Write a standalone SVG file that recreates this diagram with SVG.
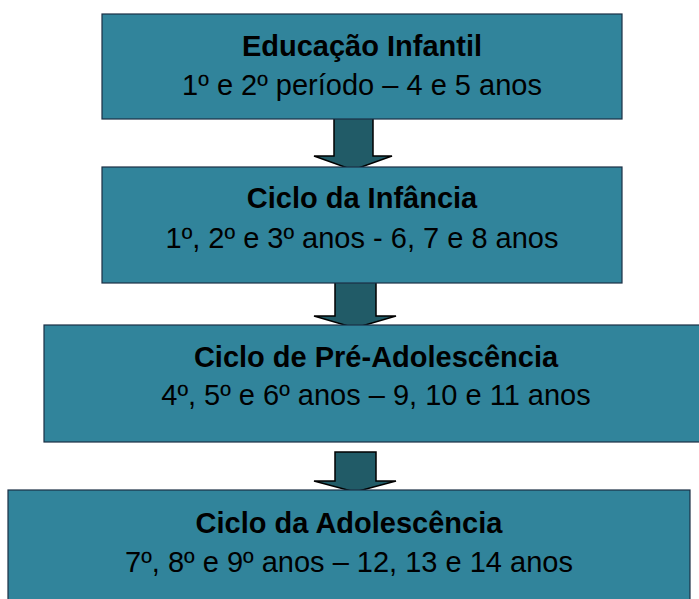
<svg xmlns="http://www.w3.org/2000/svg" width="699" height="599" viewBox="0 0 699 599">
<style>
.box{fill:#31849B;stroke:#1B2F45;stroke-width:1.2}
.arrow{fill:#215B67;stroke:#000;stroke-width:1.5;stroke-linejoin:miter}
text{font-family:"Liberation Sans",Arial,sans-serif;font-size:29px;fill:#000;text-anchor:middle}
.t{font-weight:bold}
</style>
<rect width="699" height="599" fill="#fff"/>
<g id="connectors">
<polygon class="arrow" points="334,117 373,117 373,156 392,156 353,170 314,156 334,156"/>
<polygon class="arrow" points="335,281 376,281 376,316 396,316 355,328 314,316 335,316"/>
<polygon class="arrow" points="335,452 376,452 376,481 396,481 355,492 314,481 335,481"/>
</g>
<g id="node1">
<rect class="box" x="102" y="14" width="520" height="105"/>
<text class="t" x="362" y="56">Educação Infantil</text>
<text x="362" y="95">1º e 2º período – 4 e 5 anos</text>
</g>
<g id="node2">
<rect class="box" x="102" y="167" width="520" height="116"/>
<text class="t" x="362" y="208">Ciclo da Infância</text>
<text x="362" y="248">1º, 2º e 3º anos - 6, 7 e 8 anos</text>
</g>
<g id="node3">
<rect class="box" x="44" y="325" width="664" height="117"/>
<text class="t" x="376" y="367">Ciclo de Pré-Adolescência</text>
<text x="376" y="405">4º, 5º e 6º anos – 9, 10 e 11 anos</text>
</g>
<g id="node4">
<rect class="box" x="8" y="490" width="682" height="120"/>
<text class="t" x="349" y="533">Ciclo da Adolescência</text>
<text x="349" y="572">7º, 8º e 9º anos – 12, 13 e 14 anos</text>
</g>
</svg>
